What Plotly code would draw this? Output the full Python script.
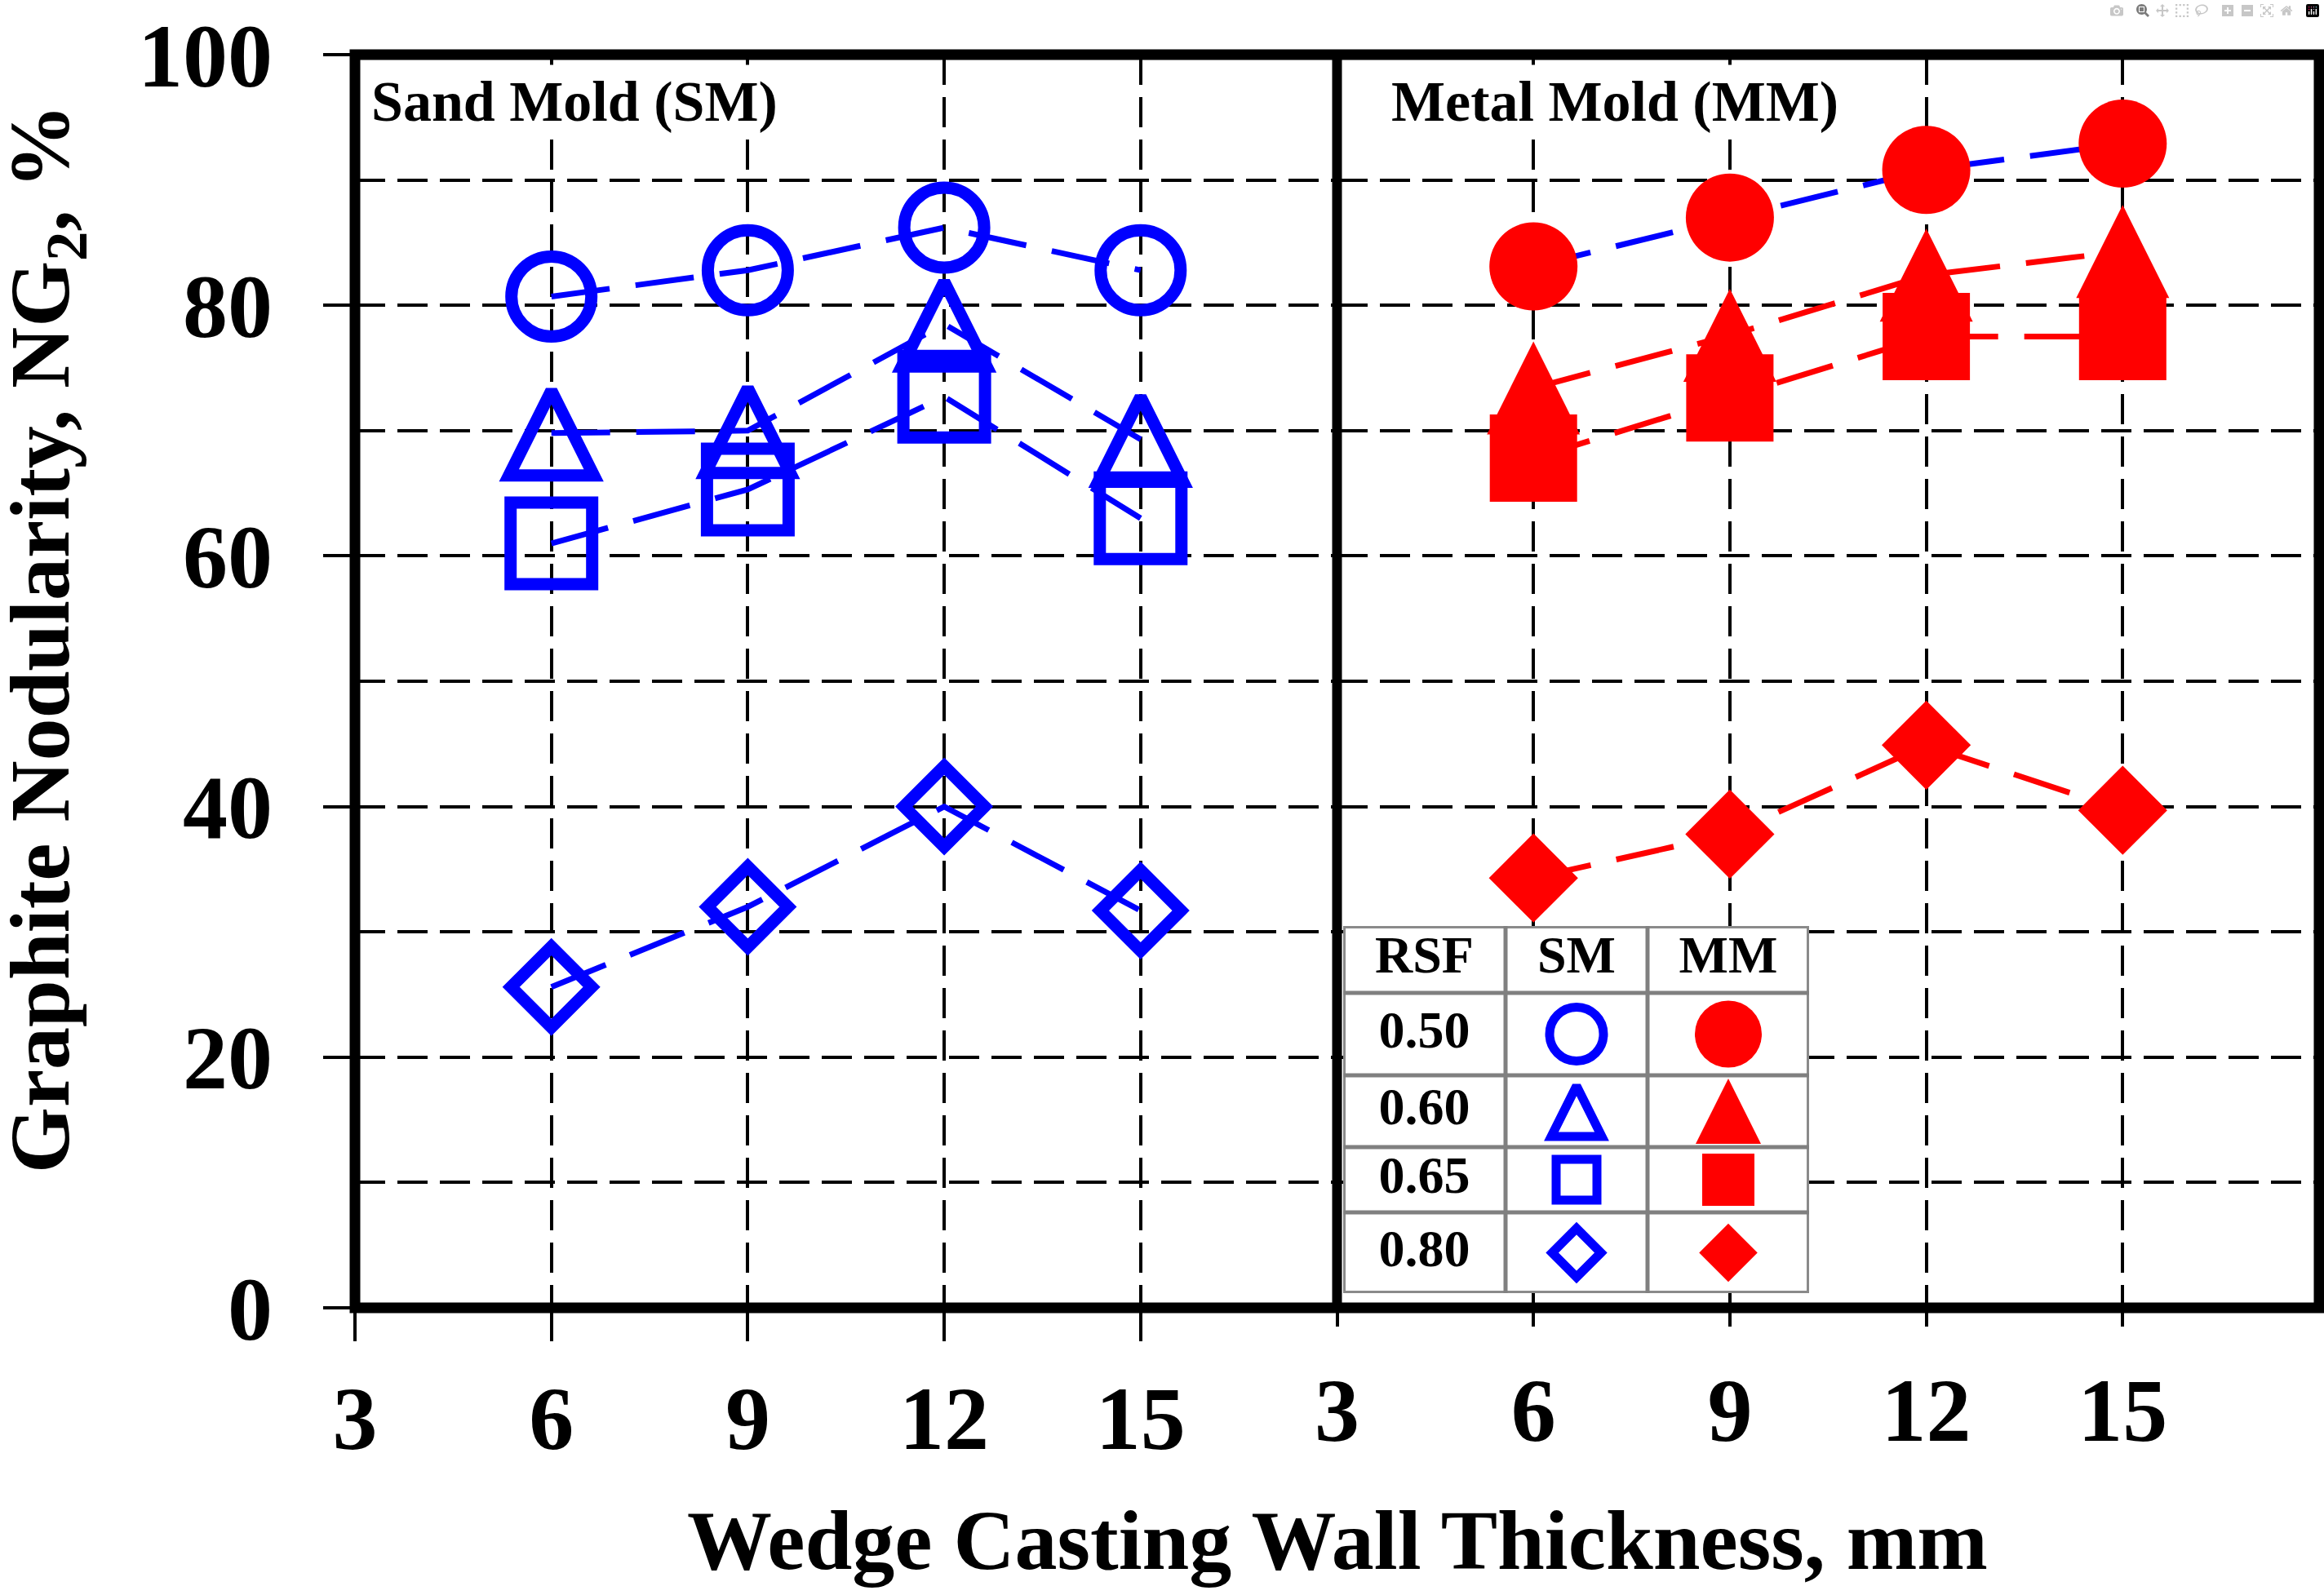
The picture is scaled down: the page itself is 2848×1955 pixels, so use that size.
import plotly.graph_objects as go

# ---------------- data ----------------
thickness = [6, 9, 12, 15]                 # wedge wall thickness, mm
x_tick_vals = [3, 6, 9, 12, 15]
rsf_labels = ["0.50", "0.60", "0.65", "0.80"]
table_header = ["RSF", "SM", "MM"]

# Sand mold (SM) graphite nodularity, %
sm_rsf050 = [80.7, 82.8, 86.2, 82.8]
sm_rsf060 = [69.8, 70.0, 78.5, 69.3]
sm_rsf065 = [61.0, 65.3, 72.7, 63.0]
sm_rsf080 = [25.6, 32.0, 40.0, 31.7]

# Metal mold (MM) graphite nodularity, %
mm_rsf050 = [83.1, 87.0, 90.8, 92.9]
mm_rsf060 = [73.4, 77.6, 82.4, 84.3]
mm_rsf065 = [67.8, 72.6, 77.5, 77.5]
mm_rsf080 = [34.3, 37.8, 44.9, 39.7]

# ---------------- style ----------------
BLUE = "#0000FF"
RED = "#FF0000"
SERIF = "Liberation Serif"
W, H = 2848, 1955
M_L, M_R, M_T, M_B = 435, 6, 67, 352
DASH = "72px,32px"
GRID = dict(showgrid=True, gridcolor="black", gridwidth=4, griddash="37px,15px")
TICKFONT = dict(family=SERIF, size=110, color="black", weight="bold")

fig = go.Figure()


def add_series(y, xa, symbol, color, line_color, size, lw, tri=False):
    fig.add_trace(go.Scatter(
        x=thickness, y=y, xaxis=xa, yaxis="y", mode="lines+markers",
        line=dict(color=line_color, width=7, dash=DASH),
        marker=dict(symbol=symbol, size=size, color=color, opacity=1,
                    angle=180 if tri else 0, standoff=size / 2 if tri else 0,
                    line=dict(width=lw, color=color)),
        showlegend=False, hoverinfo="skip"))


# Sand mold panel
add_series(sm_rsf050, "x", "circle-open", BLUE, BLUE, 98, 15)
add_series(sm_rsf060, "x", "arrow-down-open", BLUE, BLUE, 104, 15, tri=True)
add_series(sm_rsf065, "x", "square-open", BLUE, BLUE, 100, 15)
add_series(sm_rsf080, "x", "diamond-open", BLUE, BLUE, 76, 15)
# Metal mold panel
add_series(mm_rsf050, "x2", "circle", RED, BLUE, 108, 0)
add_series(mm_rsf060, "x2", "arrow-down", RED, RED, 114, 0, tri=True)
add_series(mm_rsf065, "x2", "square", RED, RED, 107, 0)
add_series(mm_rsf080, "x2", "diamond", RED, RED, 84, 0)

# ---------------- legend table (own small subplot) ----------------
T_COL = [0, 199, 373, 571]
T_ROW = [0, 82, 183, 271, 351, 450]
col_c = [(T_COL[i] + T_COL[i + 1]) / 2 for i in range(3)]
row_c = [(T_ROW[i] + T_ROW[i + 1]) / 2 for i in range(5)]

fig.add_trace(go.Scatter(
    x=col_c + [col_c[0]] * 4, y=[row_c[0]] * 3 + row_c[1:],
    text=table_header + rsf_labels, mode="text", xaxis="x3", yaxis="y3",
    textfont=dict(family=SERIF, size=64, color="black", weight="bold"),
    textposition="middle center", showlegend=False, hoverinfo="skip"))

leg_sm_sizes = [66, 62, 50, 46]
leg_mm_sizes = [82, 80, 64, 55]
fig.add_trace(go.Scatter(
    x=[col_c[1]] * 4, y=row_c[1:], mode="markers", xaxis="x3", yaxis="y3",
    marker=dict(symbol=["circle-open", "arrow-down-open", "square-open", "diamond-open"],
                size=leg_sm_sizes, color=BLUE, opacity=1, angle=[0, 180, 0, 0],
                standoff=[0, leg_sm_sizes[1] / 2, 0, 0], line=dict(width=11, color=BLUE)),
    showlegend=False, hoverinfo="skip"))
fig.add_trace(go.Scatter(
    x=[col_c[2]] * 4, y=row_c[1:], mode="markers", xaxis="x3", yaxis="y3",
    marker=dict(symbol=["circle", "arrow-down", "square", "diamond"],
                size=leg_mm_sizes, color=RED, opacity=1, angle=[0, 180, 0, 0],
                standoff=[0, leg_mm_sizes[1] / 2, 0, 0], line=dict(width=0)),
    showlegend=False, hoverinfo="skip"))

shapes = []
# faint drop shadow and white table body
shapes.append(dict(type="rect", xref="x3", yref="y3", x0=T_COL[0] + 6, x1=T_COL[-1] + 6,
                   y0=T_ROW[0] + 6, y1=T_ROW[-1] + 6, fillcolor="#e6e6e6",
                   line=dict(width=0), layer="between"))
shapes.append(dict(type="rect", xref="x3", yref="y3", x0=T_COL[0], x1=T_COL[-1],
                   y0=T_ROW[0], y1=T_ROW[-1], fillcolor="white",
                   line=dict(color="#8a8a8a", width=6), layer="between"))
for cx in T_COL[1:-1]:
    shapes.append(dict(type="line", xref="x3", yref="y3", x0=cx, x1=cx,
                       y0=T_ROW[0], y1=T_ROW[-1], line=dict(color="#808080", width=5),
                       layer="between"))
for ry in T_ROW[1:-1]:
    shapes.append(dict(type="line", xref="x3", yref="y3", x0=T_COL[0], x1=T_COL[-1],
                       y0=ry, y1=ry, line=dict(color="#808080", width=5), layer="between"))

# thick black frame and panel divider
shapes.append(dict(type="rect", xref="paper", yref="paper", x0=0, x1=1, y0=0, y1=1,
                   line=dict(color="black", width=13), layer="above"))
shapes.append(dict(type="line", xref="paper", yref="paper", x0=0.5, x1=0.5, y0=0, y1=1,
                   line=dict(color="black", width=12), layer="above"))

plot_w = W - M_L - M_R
plot_h = H - M_T - M_B


def px_x(px):
    return (px - M_L) / plot_w


def px_y(py):
    return (H - M_B - py) / plot_h


annotations = [
    dict(text="<b>Sand Mold (SM)</b>", x=px_x(448), y=px_y(124), xref="paper", yref="paper",
         xanchor="left", yanchor="middle", showarrow=False, bgcolor="white", borderpad=6,
         font=dict(family=SERIF, size=70, color="black")),
    dict(text="<b>Metal Mold (MM)</b>", x=px_x(1698), y=px_y(124), xref="paper", yref="paper",
         xanchor="left", yanchor="middle", showarrow=False, bgcolor="white", borderpad=6,
         font=dict(family=SERIF, size=70, color="black")),
    dict(text="<b>Graphite Nodularity, NG<sub>2</sub>, %</b>", x=px_x(56), y=px_y(783),
         xref="paper", yref="paper", xanchor="center", yanchor="middle", textangle=-90,
         showarrow=False, font=dict(family=SERIF, size=104, color="black")),
    dict(text="<b>Wedge Casting Wall Thickness, mm</b>", x=0.5, y=px_y(1888),
         xref="paper", yref="paper", xanchor="center", yanchor="middle",
         showarrow=False, font=dict(family=SERIF, size=104, color="black")),
]

fig.update_layout(
    template="none",
    width=W, height=H, autosize=False,
    margin=dict(l=M_L, r=M_R, t=M_T, b=M_B, pad=0),
    paper_bgcolor="white", plot_bgcolor="white",
    showlegend=False,
    xaxis=dict(domain=[0, 0.5], range=[3, 18], tickmode="array", tickvals=x_tick_vals,
               ticks="outside", ticklen=40, tickwidth=4, tickcolor="black",
               tickfont=TICKFONT, ticklabelstandoff=0, showline=False, zeroline=False,
               anchor="y", automargin=False, **GRID),
    xaxis2=dict(domain=[0.5, 1], range=[3, 18], tickmode="array", tickvals=x_tick_vals,
                ticks="outside", ticklen=22, tickwidth=4, tickcolor="black",
                tickfont=TICKFONT, ticklabelstandoff=8, showline=False, zeroline=False,
                anchor="y", automargin=False, **GRID),
    yaxis=dict(domain=[0, 1], range=[0, 100], tickmode="linear", tick0=0, dtick=20,
               ticks="outside", ticklen=38, tickwidth=4, tickcolor="black",
               tickfont=TICKFONT, ticklabelstandoff=40, showline=False, zeroline=False,
               anchor="x", automargin=False,
               minor=dict(tick0=0, dtick=10, ticks="", showgrid=True, gridcolor="black",
                          gridwidth=4, griddash="37px,15px"),
               **GRID),
    xaxis3=dict(domain=[px_x(1646), px_x(2217)], range=[T_COL[0], T_COL[-1]],
                anchor="y3", visible=False, fixedrange=True),
    yaxis3=dict(domain=[px_y(1585), px_y(1135)], range=[T_ROW[-1], T_ROW[0]],
                anchor="x3", visible=False, fixedrange=True),
    shapes=shapes,
    annotations=annotations,
)

fig.write_html("out.html", post_script="document.body.style.margin='0px';")
